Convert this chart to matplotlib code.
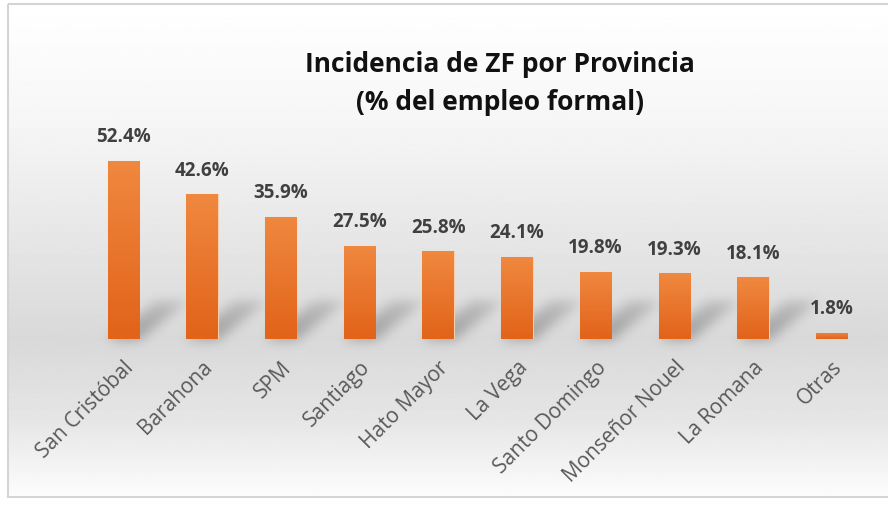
"""Incidencia de ZF por provincia, bar chart."""
import numpy as np
import matplotlib
matplotlib.use("Agg")
from matplotlib import pyplot as plt
from matplotlib.colors import LinearSegmentedColormap
from matplotlib.patches import Rectangle

provincias = ["San Cristóbal", "Barahona", "SPM", "Santiago", "Hato Mayor",
              "La Vega", "Santo Domingo", "Monseñor Nouel", "La Romana", "Otras"]
incidencia = [52.4, 42.6, 35.9, 27.5, 25.8, 24.1, 19.8, 19.3, 18.1, 1.8]
etiquetas = [f"{v:.1f}%" for v in incidencia]

W, H = 888, 508
FONT = "Open Sans"


def box_blur(a, r, n=3):
    """Cheap gaussian-ish blur with repeated box filters."""
    for _ in range(n):
        for axis in (0, 1):
            p = np.pad(a, [(r, r) if i == axis else (0, 0) for i in (0, 1)],
                       mode="edge")
            c = np.cumsum(p, axis=axis)
            c = np.insert(c, 0, 0, axis=axis)
            if axis == 0:
                a = (c[2 * r + 1:] - c[:-2 * r - 1]) / (2 * r + 1)
            else:
                a = (c[:, 2 * r + 1:] - c[:, :-2 * r - 1]) / (2 * r + 1)
    return a


fig = plt.figure(figsize=(W / 100, H / 100), dpi=100)

# background: chart area with vertical gradient and thin border
bg = fig.add_axes([0, 0, 1, 1])
bg.set_xlim(0, W)
bg.set_ylim(H, 0)
bg.axis("off")
ys = np.linspace(4, 497, 400)
shade = np.interp(ys, [4, 120, 340, 420, 497], [1.0, 0.965, 0.85, 0.9, 0.99])
grad = np.repeat(shade[:, None], 2, axis=1)
bg.imshow(grad, cmap="gray", vmin=0, vmax=1, extent=[8, W, 497, 4],
          aspect="auto", interpolation="bilinear")
bg.add_patch(Rectangle((7.5, 4), W, 493, fill=False, ec="#d4d4d4", lw=1.5))

# title
bg.text(500, 65, "Incidencia de ZF por Provincia", ha="center", va="center",
        fontsize=19, fontweight="bold", family=FONT, color="#111111")
bg.text(500, 103, "(% del empleo formal)", ha="center", va="center",
        fontsize=19, fontweight="bold", family=FONT, color="#111111")

ax = fig.add_axes([84 / W, 169 / H, 787 / W, 204 / H])
ax.set_xlim(-0.5, len(provincias) - 0.5)
ax.set_ylim(0, 60)
ax.patch.set_visible(False)
for s in ax.spines.values():
    s.set_visible(False)

x = np.arange(len(provincias))
bars = ax.bar(x, incidencia, width=0.4, color="#EB7428", zorder=3,
              edgecolor="#f9cfae", linewidth=0.8)

# soft floor shadows cast up-right from each bar base (pixel space)
fig.canvas.draw()
sh = np.zeros((H, W))
yy, xx = np.mgrid[0:H, 0:W]
for b in bars:
    (x0, y0), (x1, y1) = ax.transData.transform(
        [(b.get_x(), 0), (b.get_x() + b.get_width(), b.get_height())])
    base = H - y0
    hpx = y1 - y0
    hs = min(0.85 * hpx, 38)
    if hs < 10:
        continue
    dx = 1.25 * hs
    t = (base - yy) / hs
    inside = (t >= 0) & (t <= 1)
    left = x0 + t * dx
    right = x1 + t * dx
    m = inside & (xx >= left) & (xx <= right)
    sh += m * (1 - 0.5 * t)
sh = np.clip(box_blur(sh, 5), 0, 1)
rgba = np.zeros((H, W, 4))
rgba[..., :3] = 0.38
rgba[..., 3] = 0.5 * sh
bg.imshow(rgba, extent=[0, W, H, 0], aspect="auto", zorder=2)

# orange gradient inside each bar
cmap = LinearSegmentedColormap.from_list("naranja", ["#F0883F", "#E2631A"])
gv = np.linspace(0, 1, 100)[:, None]
for b in bars:
    im = ax.imshow(gv, cmap=cmap, aspect="auto", zorder=4,
                   extent=[b.get_x(), b.get_x() + b.get_width(),
                           0, b.get_height()], interpolation="bilinear")
    im.set_clip_path(b)

for xi, v, t in zip(x, incidencia, etiquetas):
    ax.annotate(t, (xi, v), xytext=(0, 17), textcoords="offset points",
                ha="center", va="center", fontsize=13.5, fontweight="bold",
                family=FONT, color="#404040", annotation_clip=False)

ax.set_yticks([])
ax.set_xticks(x)
ax.set_xticklabels(provincias, rotation=45, ha="right", rotation_mode="anchor",
                   fontsize=15, family=FONT, color="#595959")
ax.tick_params(axis="x", length=0, pad=13)

plt.savefig("out.png", dpi=100)
